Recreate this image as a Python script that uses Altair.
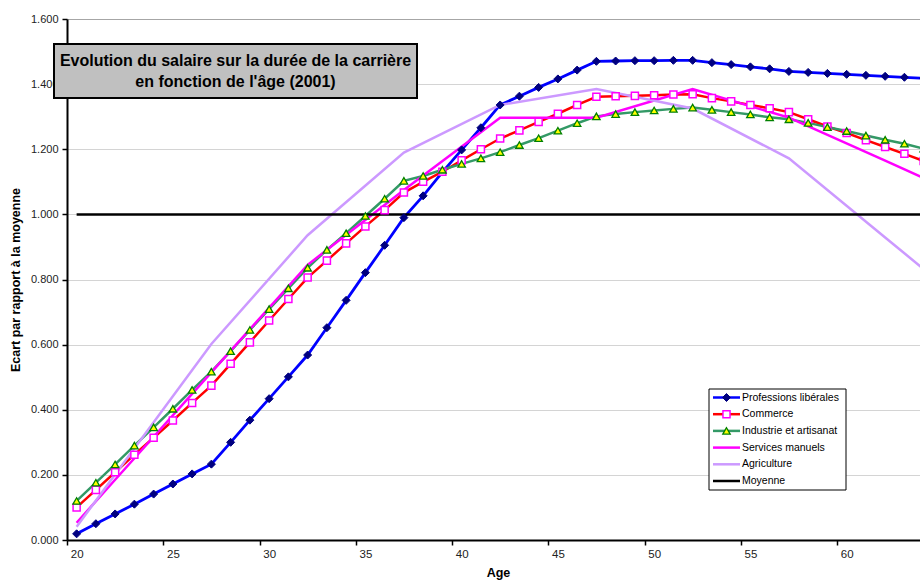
import altair as alt
import pandas as pd

# Age grid for the series plotted every year
ages = list(range(20, 65))

liberales = [0.019, 0.050, 0.080, 0.110, 0.141, 0.172, 0.203, 0.233, 0.300, 0.368,
             0.434, 0.501, 0.568, 0.652, 0.736, 0.821, 0.905, 0.990, 1.057, 1.130,
             1.198, 1.266, 1.336, 1.363, 1.390, 1.416, 1.443, 1.470, 1.471, 1.472,
             1.472, 1.473, 1.473, 1.466, 1.460, 1.453, 1.447, 1.439, 1.436, 1.433,
             1.430, 1.427, 1.424, 1.421, 1.418]

commerce = [0.100, 0.154, 0.208, 0.262, 0.314, 0.367, 0.421, 0.474, 0.541, 0.607,
            0.674, 0.740, 0.806, 0.858, 0.911, 0.963, 1.013, 1.067, 1.100, 1.131,
            1.166, 1.200, 1.233, 1.258, 1.284, 1.309, 1.336, 1.361, 1.363, 1.364,
            1.366, 1.368, 1.369, 1.357, 1.347, 1.336, 1.326, 1.314, 1.292, 1.270,
            1.250, 1.228, 1.207, 1.186, 1.164]

industrie = [0.120, 0.176, 0.232, 0.290, 0.346, 0.403, 0.461, 0.517, 0.580, 0.645,
             0.709, 0.773, 0.836, 0.891, 0.942, 0.995, 1.048, 1.103, 1.118, 1.137,
             1.155, 1.172, 1.191, 1.213, 1.234, 1.257, 1.280, 1.301, 1.308, 1.314,
             1.319, 1.324, 1.328, 1.321, 1.314, 1.307, 1.298, 1.292, 1.281, 1.268,
             1.256, 1.242, 1.229, 1.217, 1.202]

# Series known only at a few ages
services_ages = [20, 22, 27, 32, 37, 42, 47, 52, 57, 62, 64]
services = [0.053, 0.185, 0.515, 0.845, 1.075, 1.297, 1.297, 1.385, 1.297, 1.165, 1.112]

agri_ages = [20, 22, 27, 32, 37, 42, 47, 52, 57, 62, 64]
agriculture = [0.041, 0.201, 0.602, 0.936, 1.190, 1.336, 1.385, 1.325, 1.172, 0.929, 0.832]

moyenne = [1.0] * len(ages)

names = ["Professions libérales", "Commerce", "Industrie et artisanat",
         "Services manuels", "Agriculture", "Moyenne"]
line_colors = ["#0000FF", "#FF0000", "#339966", "#FF00FF", "#CC99FF", "#000000"]

series = {
    "Professions libérales": (ages, liberales),
    "Commerce": (ages, commerce),
    "Industrie et artisanat": (ages, industrie),
    "Services manuels": (services_ages, services),
    "Agriculture": (agri_ages, agriculture),
    "Moyenne": (ages, moyenne),
}

# marker style per series (None = plain line)
markers = {
    "Professions libérales": dict(shape="diamond", size=64, fill="#000080", stroke="#000080", strokeWidth=1),
    "Commerce": dict(shape="square", size=50, fill="#FFFFFF", stroke="#FF00FF", strokeWidth=1.5),
    "Industrie et artisanat": dict(shape="triangle-up", size=55, fill="#FFFF00", stroke="#008000", strokeWidth=1.3),
}

FONT = "Liberation Sans"
YEAR_PX = 853 / (63.81 - 19.5)

x_enc = alt.X(
    "age:Q",
    scale=alt.Scale(domain=[19.5, 63.81], nice=False, zero=False),
    axis=alt.Axis(
        values=[20, 25, 30, 35, 40, 45, 50, 55, 60], format="d",
        tickOffset=-YEAR_PX / 2, labelOffset=YEAR_PX / 2,
        grid=False, domainColor="#000000", domainWidth=2,
        tickColor="#000000", tickSize=5, tickWidth=1.5,
        labelFont=FONT, labelFontSize=11.5, labelColor="#222222", labelPadding=3,
        title="Age", titleFont=FONT, titleFontSize=12.5, titleFontWeight="bold",
        titleColor="#000000", titlePadding=7, titleX=431,
    ),
)

y_enc = alt.Y(
    "val:Q",
    scale=alt.Scale(domain=[0, 1.6], nice=False, zero=True),
    axis=alt.Axis(
        values=[0, 0.2, 0.4, 0.6, 0.8, 1.0, 1.2, 1.4, 1.6], format=".3f",
        grid=True,
        gridColor={"condition": {"test": "datum.value >= 1.6", "value": "#a6a6a6"}, "value": "#d4d4d4"},
        gridWidth=1.2,
        domainColor="#000000", domainWidth=2,
        tickColor="#000000", tickSize=5, tickWidth=1.5,
        labelFont=FONT, labelFontSize=11, labelColor="#222222", labelPadding=4,
        title="Ecart par rapport à la moyenne", titleFont=FONT, titleFontSize=12.5,
        titleFontWeight="bold", titleColor="#000000", titlePadding=8,
    ),
)

layers = []
for name, color in zip(names, line_colors):
    xs, vs = series[name]
    df = pd.DataFrame({"age": xs, "val": vs})
    width = 2.8 if name == "Professions libérales" else 2.5
    layers.append(
        alt.Chart(df).mark_line(color=color, strokeWidth=width, clip=True).encode(x=x_enc, y=y_enc)
    )

for name, style in markers.items():
    xs, vs = series[name]
    df = pd.DataFrame({"age": xs, "val": vs})
    layers.append(
        alt.Chart(df).mark_point(filled=True, opacity=1, clip=True, **style).encode(x=x_enc, y=y_enc)
    )

# Title box
one = pd.DataFrame({"k": [0]})
layers.append(
    alt.Chart(one).mark_rect(fill="#C0C0C0", stroke="#000000", strokeWidth=2).encode(
        x=alt.value(-13), x2=alt.value(350), y=alt.value(25), y2=alt.value(79)
    )
)
for txt, ty in [("Evolution du salaire sur la durée de la carrière", 42),
                ("en fonction de l'âge (2001)", 63)]:
    layers.append(
        alt.Chart(one).mark_text(text=txt, font=FONT, fontSize=16, fontWeight="bold",
                                 color="#000000", align="center", baseline="middle").encode(
            x=alt.value(168.5), y=alt.value(ty)
        )
    )

# Legend box
layers.append(
    alt.Chart(one).mark_rect(fill="#FFFFFF", stroke="#000000", strokeWidth=1).encode(
        x=alt.value(642), x2=alt.value(779), y=alt.value(370), y2=alt.value(471)
    )
)
for i, (name, color) in enumerate(zip(names, line_colors)):
    ly = 378.5 + i * 16.7
    layers.append(
        alt.Chart(one).mark_rule(color=color, strokeWidth=2.5).encode(
            x=alt.value(646), x2=alt.value(673), y=alt.value(ly)
        )
    )
    if name in markers:
        layers.append(
            alt.Chart(one).mark_point(filled=True, opacity=1, **markers[name]).encode(
                x=alt.value(659.5), y=alt.value(ly)
            )
        )
    layers.append(
        alt.Chart(one).mark_text(text=name, font=FONT, fontSize=10.5, color="#000000",
                                 align="left", baseline="middle").encode(
            x=alt.value(675), y=alt.value(ly)
        )
    )

chart = alt.layer(*layers).properties(
    width=853, height=521,
    autosize=alt.AutoSizeParams(type="none"),
    padding={"left": 67, "top": 19, "right": 0, "bottom": 41},
    background="#FFFFFF",
).configure_view(stroke=None)

chart.save("out.html", embed_options={"renderer": "svg", "actions": False})
